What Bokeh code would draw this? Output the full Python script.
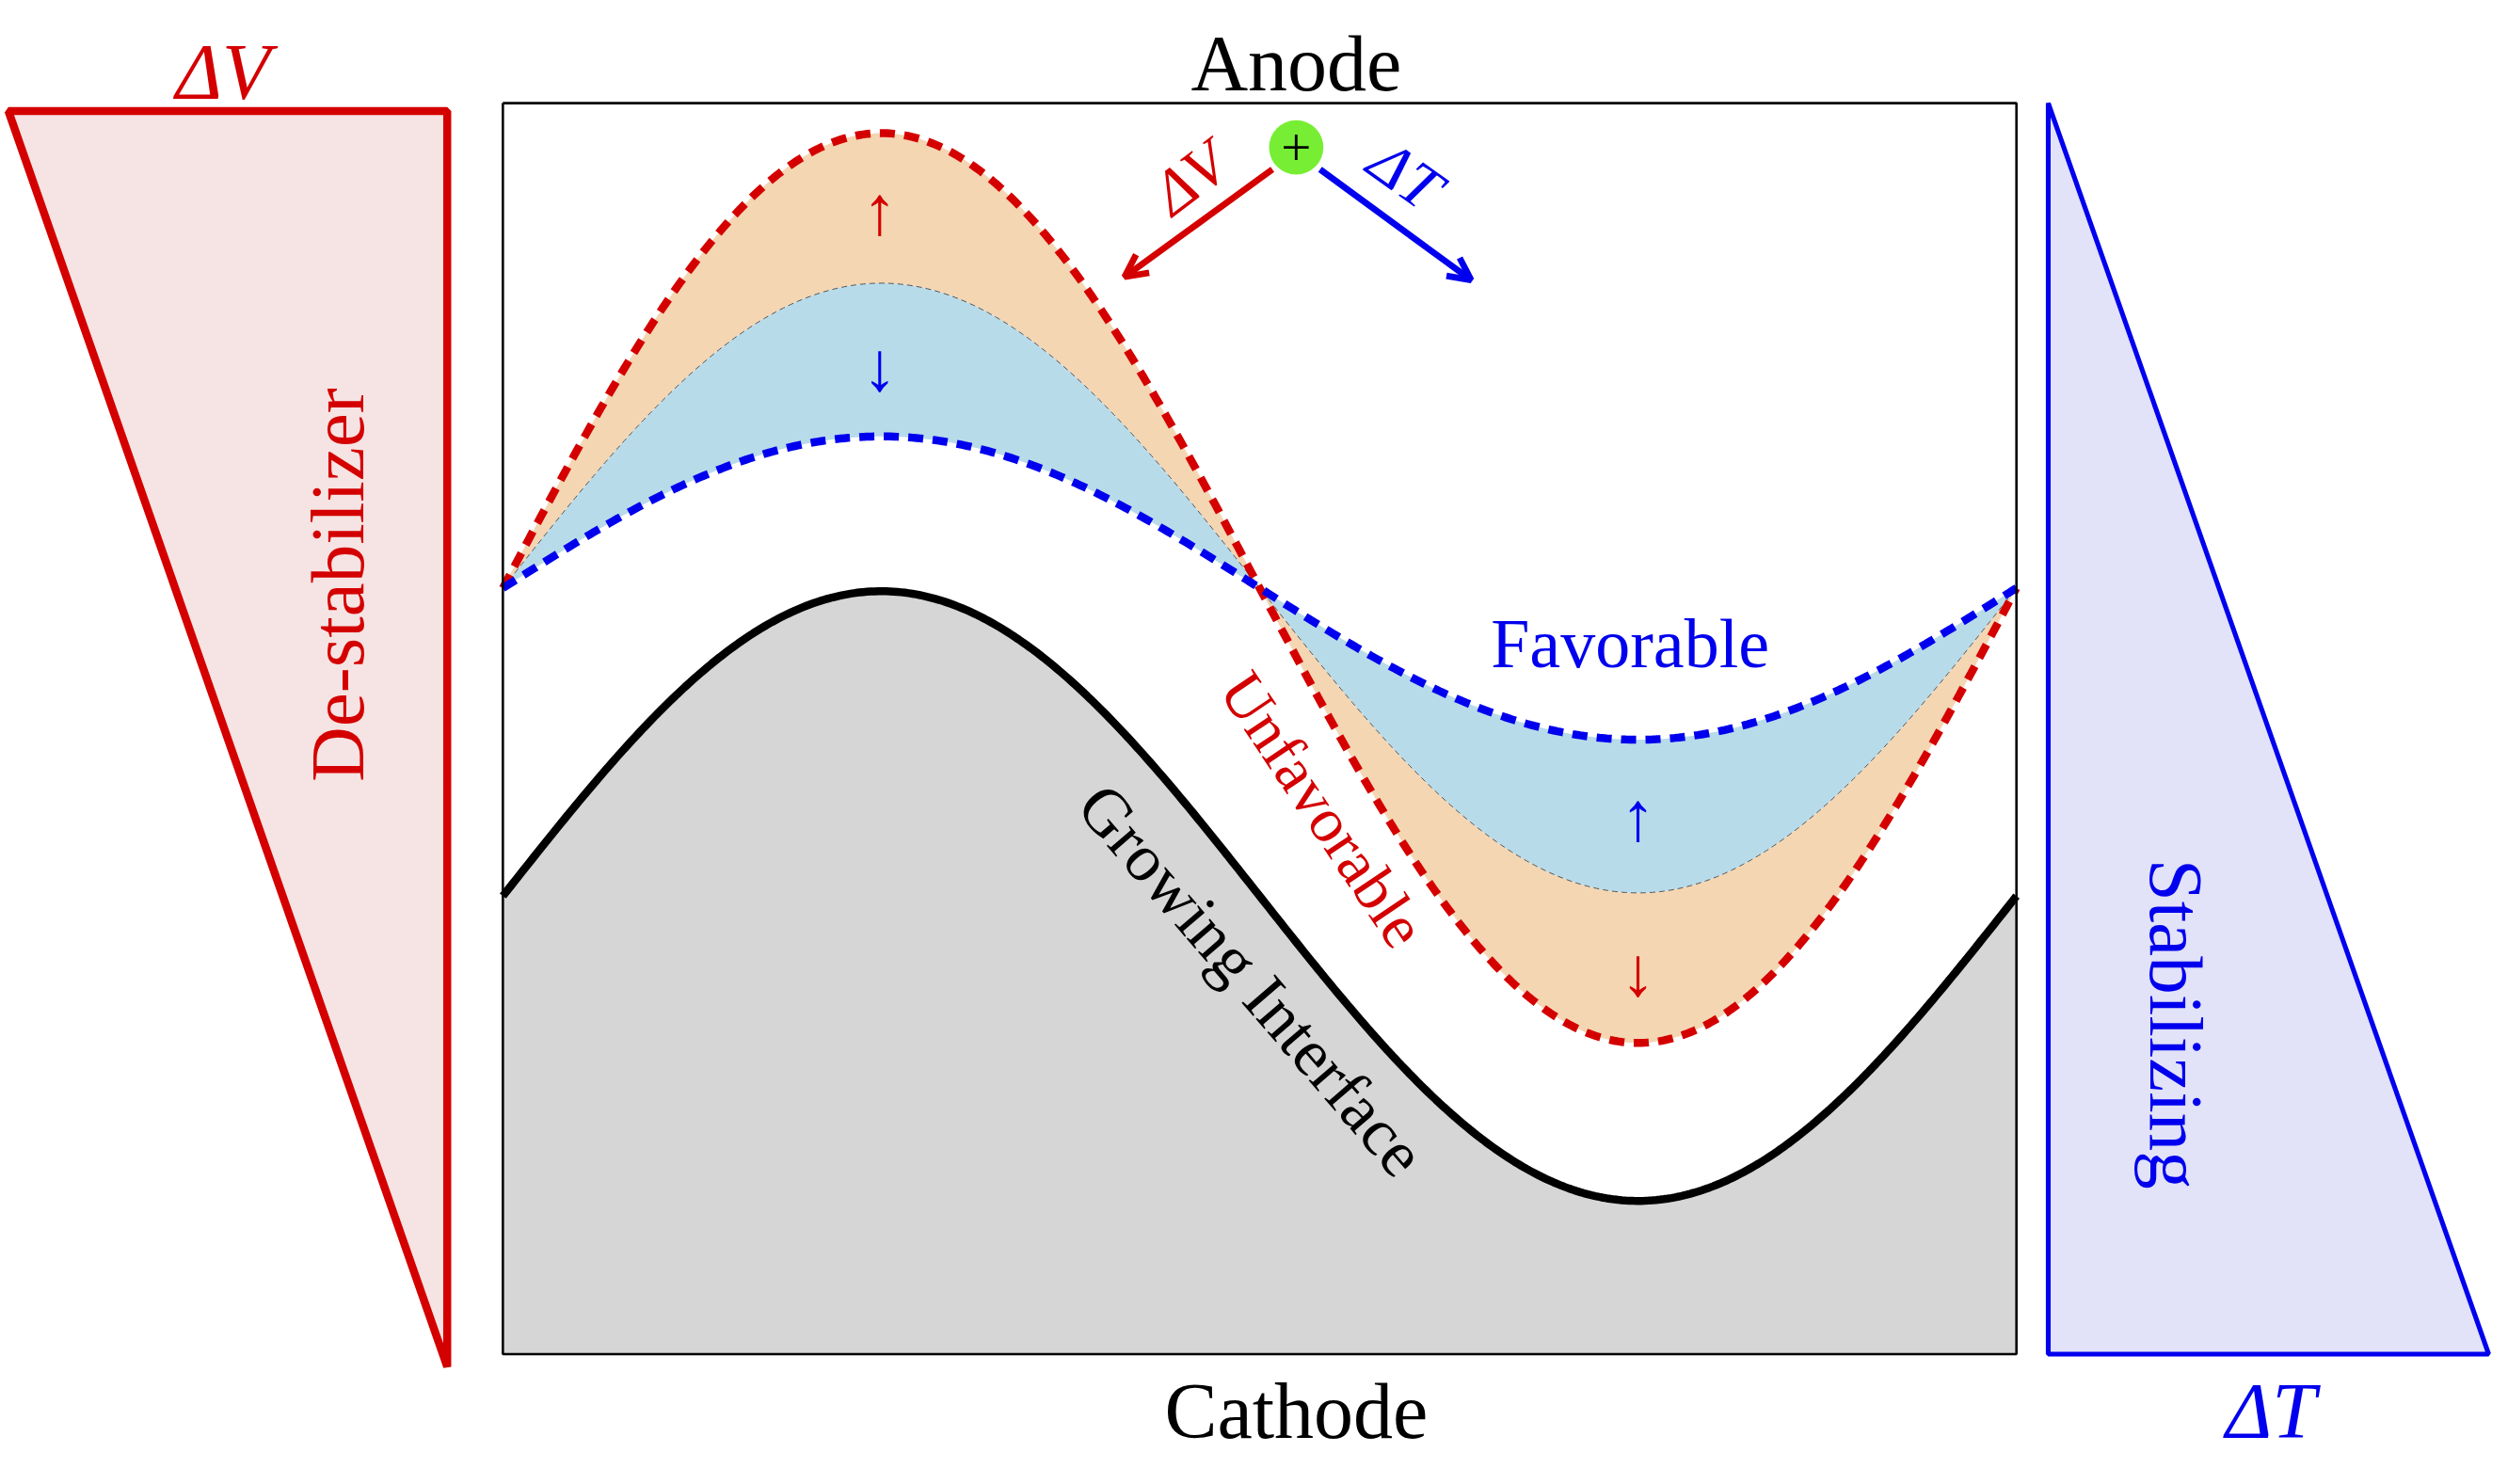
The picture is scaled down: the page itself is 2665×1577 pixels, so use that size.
import numpy as np
from bokeh.plotting import figure
from bokeh.models import Range1d, Arrow, OpenHead
from bokeh.core.properties import value
from bokeh.embed import file_html
from bokeh.resources import INLINE

# schematic geometry (in reference pixel units, 1568 x 930 canvas)
box_x = [316, 1268]
box_y = [65, 857]
centre_y = {"interface": 567, "field": 372}
amp = {"interface": 193, "red": 288, "mid": 193, "blue": 96}
left_tri_x = [5, 281, 281]
left_tri_y = [70, 70, 865]
right_tri_x = [1288, 1288, 1565]
right_tri_y = [65, 857, 857]

S = 2665 / 1568
FONT = value("Liberation Serif")

x = np.linspace(box_x[0], box_x[1], 400)
phase = 2 * np.pi * (x - box_x[0]) / (box_x[1] - box_x[0])
y_int = centre_y["interface"] - amp["interface"] * np.sin(phase)
y_red = centre_y["field"] - amp["red"] * np.sin(phase)
y_mid = centre_y["field"] - amp["mid"] * np.sin(phase)
y_blue = centre_y["field"] - amp["blue"] * np.sin(phase)

p = figure(width=2649, height=1561, x_range=Range1d(0, 1568), y_range=Range1d(930, 0),
           output_backend="svg", toolbar_location=None, min_border=0)
p.axis.visible = False
p.grid.visible = False
p.outline_line_color = None

# triangles
p.patch(left_tri_x, left_tri_y, fill_color="#f6e3e3", line_color="#d40000", line_width=5 * S)
p.patch(right_tri_x, right_tri_y, fill_color="#e2e2f8", line_color="#0000ee", line_width=3 * S)

# frame + interface
p.varea(x=x, y1=y_int, y2=np.full_like(x, box_y[1]), fill_color="#d6d6d6")
p.varea(x=x, y1=y_red, y2=y_mid, fill_color="#f4d6b3")
p.varea(x=x, y1=y_mid, y2=y_blue, fill_color="#b8dbea")
p.line(x, y_mid, line_color="#555555", line_width=1, line_dash="6 4")
p.line(x, y_red, line_color="#d40000", line_width=5 * S, line_dash="16 10")
p.line(x, y_blue, line_color="#0000ee", line_width=5 * S, line_dash="16 10")
p.line(x, y_int, line_color="black", line_width=5 * S)
p.line([box_x[0], box_x[1], box_x[1], box_x[0], box_x[0]],
       [box_y[0], box_y[0], box_y[1], box_y[1], box_y[0]], line_color="black", line_width=1.5 * S)

# arrows showing growth direction
p.text([553, 1030], [133, 615], text=["↑", "↓"], text_color="#d40000", text_font=FONT,
       text_font_size=f"{int(44*S)}px", text_align="center", text_baseline="middle")
p.text([553, 1030], [232, 517], text=["↓", "↑"], text_color="#0000ee", text_font=FONT,
       text_font_size=f"{int(44*S)}px", text_align="center", text_baseline="middle")

# ion and gradients
p.add_layout(Arrow(end=OpenHead(size=14 * S, line_color="#d40000", line_width=4 * S),
                   x_start=800, y_start=107, x_end=707, y_end=175,
                   line_color="#d40000", line_width=4 * S))
p.add_layout(Arrow(end=OpenHead(size=14 * S, line_color="#0000ee", line_width=4 * S),
                   x_start=830, y_start=107, x_end=925, y_end=177,
                   line_color="#0000ee", line_width=4 * S))
p.scatter([815], [93], size=34 * S, fill_color="#77ee33", line_color=None)
p.text([815], [93], text=["+"], text_color="black", text_font=FONT,
       text_font_size=f"{int(34*S)}px", text_align="center", text_baseline="middle")
p.text([748], [112], text=["ΔV"], text_color="#d40000", text_font=FONT, text_font_style="italic",
       text_font_size=f"{int(40*S)}px", text_align="center", text_baseline="middle", angle=0.65)
p.text([884], [110], text=["ΔT"], text_color="#0000ee", text_font=FONT, text_font_style="italic",
       text_font_size=f"{int(40*S)}px", text_align="center", text_baseline="middle", angle=-0.62)

def label(xx, yy, t, color, size, angle=0.0, style="normal"):
    p.text([xx], [yy], text=[t], text_color=color, text_font=FONT, text_font_style=style,
           text_font_size=f"{int(size*S)}px", text_align="center", text_baseline="middle", angle=angle)

label(815, 40, "Anode", "black", 50)
label(815, 893, "Cathode", "black", 50)
label(140, 45, "ΔV", "#d40000", 50, style="italic")
label(1428, 893, "ΔT", "#0000ee", 50, style="italic")
label(212, 370, "De-stabilizer", "#d40000", 48, angle=np.pi / 2)
label(1368, 648, "Stabilizing", "#0000ee", 48, angle=-np.pi / 2)
label(1025, 407, "Favorable", "#0000ee", 44)
label(832, 512, "Unfavorable", "#d40000", 40, angle=-0.98)
label(787, 620, "Growing Interface", "black", 42, angle=-0.86)

open("out.html", "w").write(file_html(p, INLINE))
